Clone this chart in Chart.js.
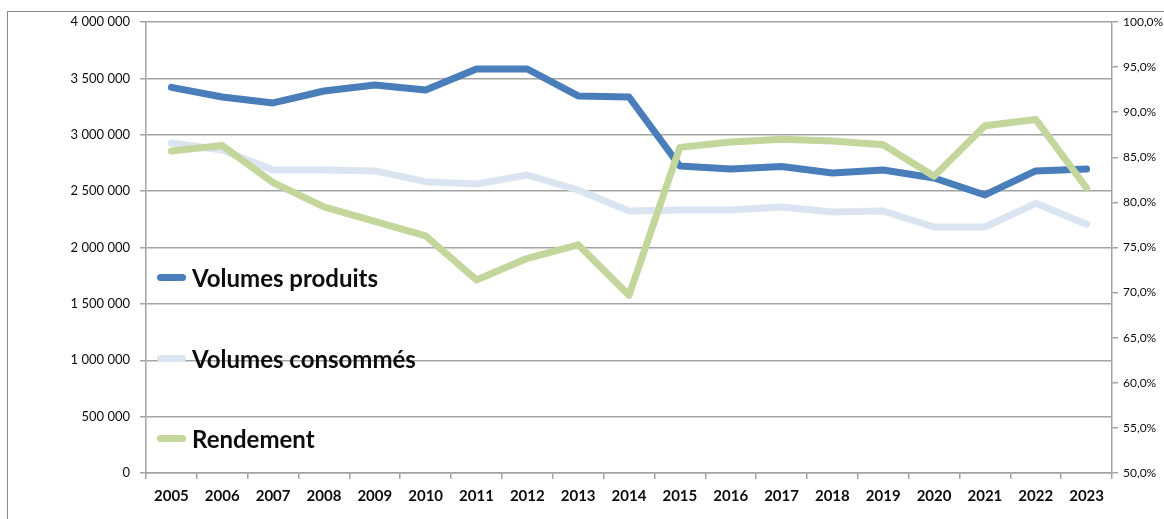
<!DOCTYPE html>
<html>
<head>
<meta charset="utf-8">
<script src="https://cdn.jsdelivr.net/npm/chart.js@4/dist/chart.umd.min.js"></script>
<style>
  html, body { margin: 0; padding: 0; background: #fff; overflow: hidden; }
  #wrap { position: relative; width: 1164px; height: 519px; }
  #frame { position: absolute; left: 7px; top: 11px; width: 1200px; height: 600px; border-left: 1px solid #8a8a8a; border-top: 1px solid #8a8a8a; }
  #chart { position: absolute; left: 0; top: 0; }
  .lg { position: absolute; left: 157px; height: 30px; display: flex; align-items: center; font: bold 24px Lato, sans-serif; color: #0d0d0d; white-space: nowrap; }
  .lg i { display: inline-block; width: 29px; height: 7px; border-radius: 4px; margin-right: 6px; }
</style>
</head>
<body>
<div id="wrap">
  <div id="frame"></div>
  <canvas id="chart" width="1164" height="519"></canvas>
  <div id="legend"></div>
</div>
<script>
// ─── Data ───
const years = ['2005', '2006', '2007', '2008', '2009', '2010', '2011', '2012', '2013', '2014',
  '2015', '2016', '2017', '2018', '2019', '2020', '2021', '2022', '2023'];
const volumesProduits = [3420000, 3335000, 3282000, 3388000, 3441000, 3397000, 3583000, 3583000, 3344000, 3335000,
  2723000, 2696000, 2718000, 2661000, 2687000, 2616000, 2466000, 2679000, 2696000];
const volumesConsommes = [2927000, 2865000, 2687000, 2687000, 2679000, 2584000, 2563000, 2643000, 2510000, 2324000,
  2333000, 2333000, 2359000, 2315000, 2324000, 2182000, 2182000, 2392000, 2206000];
const rendement = [85.7, 86.3, 82.2, 79.5, 77.9, 76.3, 71.4, 73.8, 75.3, 69.7,
  86.1, 86.7, 87.0, 86.8, 86.4, 82.9, 88.5, 89.2, 81.6];

const colors = { prod: '#4a7ebb', cons: '#dbe5f1', rend: '#c3d69b', grid: '#a3a3a3', tick: '#0d0d0d' };
const FONT = 'Lato, sans-serif';

const fmtSpace = v => String(Math.round(v)).replace(/\B(?=(\d{3})+(?!\d))/g, ' ');
const fmtPct = v => v.toFixed(1).replace('.', ',') + '%';

const lineStyle = { borderWidth: 7, pointRadius: 0, pointHoverRadius: 0, tension: 0, borderCapStyle: 'round', borderJoinStyle: 'round', fill: false };

const chart = new Chart(document.getElementById('chart'), {
  type: 'line',
  data: {
    labels: years,
    datasets: [
      { label: 'Volumes produits', data: volumesProduits, borderColor: colors.prod, backgroundColor: colors.prod, yAxisID: 'y', order: 3, ...lineStyle },
      { label: 'Volumes consommés', data: volumesConsommes, borderColor: colors.cons, backgroundColor: colors.cons, yAxisID: 'y', order: 2, ...lineStyle },
      { label: 'Rendement', data: rendement, borderColor: colors.rend, backgroundColor: colors.rend, yAxisID: 'y1', order: 1, ...lineStyle },
    ],
  },
  options: {
    responsive: false,
    animation: false,
    layout: { padding: { top: 22, left: 0, right: 0, bottom: 0 } },
    plugins: { legend: { display: false }, tooltip: { enabled: false } },
    scales: {
      x: {
        offset: true,
        grid: { offset: true, drawOnChartArea: false, drawTicks: true, tickLength: 6, color: colors.grid, lineWidth: 1.5 },
        border: { color: colors.grid, width: 1.5 },
        ticks: { color: colors.tick, font: { family: FONT, size: 15, weight: 'bold' }, padding: 8, maxRotation: 0, autoSkip: false },
        afterFit: s => { s.height = 46; },
      },
      y: {
        position: 'left',
        min: 0, max: 4000000,
        grid: { color: colors.grid, lineWidth: 1.5, tickLength: 6 },
        border: { color: colors.grid, width: 1.5 },
        ticks: { stepSize: 500000, color: colors.tick, font: { family: FONT, size: 13 }, padding: 10, callback: v => fmtSpace(v) },
        afterFit: s => { s.width = 146; },
      },
      y1: {
        position: 'right',
        min: 50, max: 100,
        grid: { drawOnChartArea: false, color: colors.grid, lineWidth: 1.5, tickLength: 6 },
        border: { color: colors.grid, width: 1.5 },
        ticks: { stepSize: 5, color: colors.tick, font: { family: FONT, size: 12 }, padding: 5, callback: v => fmtPct(v) },
        afterFit: s => { s.width = 52; },
      },
    },
  },
});

// ─── Legend (inside the plot, left side) ───
const legendTops = [262, 343, 423];
const lg = document.getElementById('legend');
chart.data.datasets.forEach((d, i) => {
  const el = document.createElement('div');
  el.className = 'lg';
  el.style.top = legendTops[i] + 'px';
  el.innerHTML = `<i style="background:${d.borderColor}"></i><span>${d.label}</span>`;
  lg.appendChild(el);
});
</script>
</body>
</html>
